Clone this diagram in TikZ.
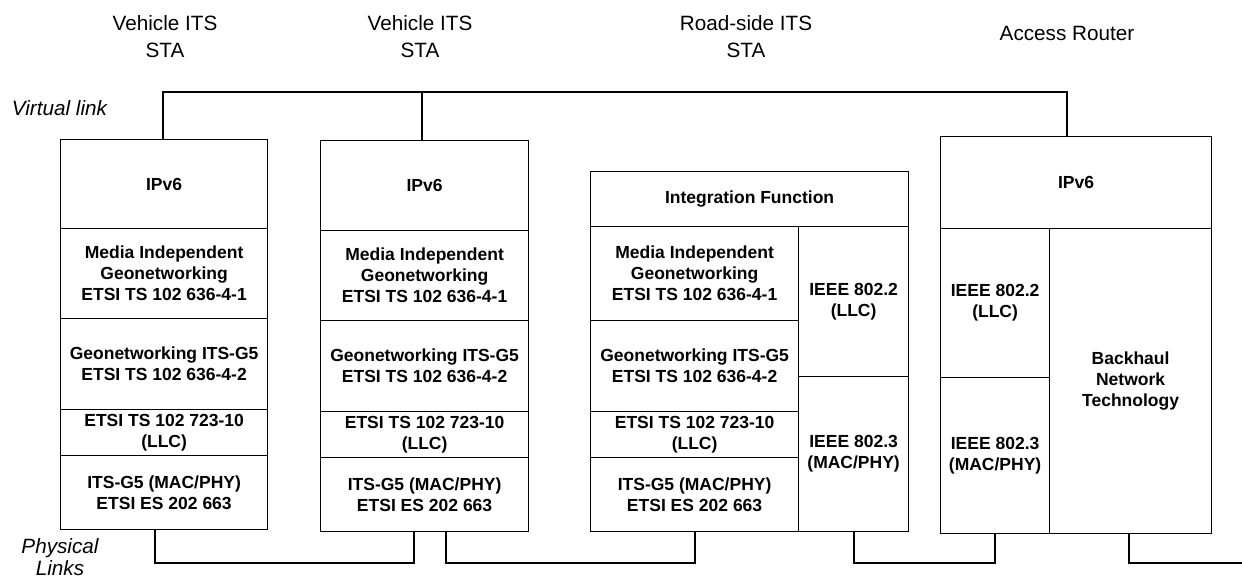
\documentclass[tikz,border=0pt]{standalone}
\usepackage{fontspec}
\setmainfont{Liberation Sans}
\usepackage{tikz}
\usetikzlibrary{calc}
\tikzset{
  layer/.style={draw=black, line width=1.2pt, anchor=north west, inner sep=0pt,
    align=center, font=\fontsize{17.5}{21}\selectfont\bfseries},
  link/.style={draw=black, line width=2pt, line cap=rect, line join=miter},
  title/.style={align=center, font=\fontsize{20.7}{27}\selectfont},
  side/.style={align=center, font=\fontsize{20.7}{22}\selectfont\itshape},
}

\begin{document}
\begin{tikzpicture}[x=1pt, y=-1pt]
  \useasboundingbox (0,0) rectangle (1242,582);

  % station names
  \node[title] (t1) at (165,36.5) {Vehicle ITS\\STA};
  \node[title] (t2) at (420,36.5) {Vehicle ITS\\STA};
  \node[title] (t3) at (746,36.5) {Road-side ITS\\STA};
  \node[title] (t4) at (1067,33) {Access Router};
  \node[side] (vlab) at (59.5,108) {Virtual link};
  \node[side] (plab) at (60,557) {Physical\\Links};

  % first vehicle
  \node[layer, minimum width=207, minimum height=89] (v1ip) at (60,139) {IPv6};
  \node[layer, minimum width=207, minimum height=90] (v1mig) at (60,228) {Media Independent\\Geonetworking\\ETSI TS 102 636-4-1};
  \node[layer, minimum width=207, minimum height=91] (v1geo) at (60,318) {Geonetworking ITS-G5\\ETSI TS 102 636-4-2};
  \node[layer, minimum width=207, minimum height=46] (v1llc) at (60,409) {ETSI TS 102 723-10\\(LLC)};
  \node[layer, minimum width=207, minimum height=74] (v1phy) at (60,455) {ITS-G5 (MAC/PHY)\\ETSI ES 202 663};

  % second vehicle
  \node[layer, minimum width=208, minimum height=90] (v2ip) at (320,140) {IPv6};
  \node[layer, minimum width=208, minimum height=90] (v2mig) at (320,230) {Media Independent\\Geonetworking\\ETSI TS 102 636-4-1};
  \node[layer, minimum width=208, minimum height=91] (v2geo) at (320,320) {Geonetworking ITS-G5\\ETSI TS 102 636-4-2};
  \node[layer, minimum width=208, minimum height=46] (v2llc) at (320,411) {ETSI TS 102 723-10\\(LLC)};
  \node[layer, minimum width=208, minimum height=74] (v2phy) at (320,457) {ITS-G5 (MAC/PHY)\\ETSI ES 202 663};

  % road-side station
  \node[layer, minimum width=318, minimum height=55] (rsif) at (590,171) {Integration Function};
  \node[layer, minimum width=208, minimum height=94] (rsmig) at (590,226) {Media Independent\\Geonetworking\\ETSI TS 102 636-4-1};
  \node[layer, minimum width=208, minimum height=91] (rsgeo) at (590,320) {Geonetworking ITS-G5\\ETSI TS 102 636-4-2};
  \node[layer, minimum width=208, minimum height=46] (rsllc) at (590,411) {ETSI TS 102 723-10\\(LLC)};
  \node[layer, minimum width=208, minimum height=74] (rsphy) at (590,457) {ITS-G5 (MAC/PHY)\\ETSI ES 202 663};
  \node[layer, minimum width=110, minimum height=150] (rs8022) at (798,226) {IEEE 802.2\\(LLC)};
  \node[layer, minimum width=110, minimum height=155] (rs8023) at (798,376) {IEEE 802.3\\(MAC/PHY)};

  % access router
  \node[layer, minimum width=271, minimum height=92] (arip) at (940,136) {IPv6};
  \node[layer, minimum width=109, minimum height=149] (ar8022) at (940,228) {IEEE 802.2\\(LLC)};
  \node[layer, minimum width=109, minimum height=156] (ar8023) at (940,377) {IEEE 802.3\\(MAC/PHY)};
  \node[layer, minimum width=162, minimum height=305] (arbh) at (1049,228) {Backhaul\\Network\\Technology};

  % virtual link
  \coordinate (vl) at (0,92);
  \coordinate (arup) at ([xshift=-9.5pt]arip.north);
  \draw[link] ([xshift=-1.5pt]v1ip.north) |- (arup |- vl) -- (arup);
  \draw[link] ([xshift=-3pt]v2ip.north) -- ([xshift=-3pt]v2ip.north |- vl);

  % physical links
  \coordinate (pl) at (0,563);
  \coordinate (edge) at (1242,563);
  \coordinate (v1dn) at ([xshift=-9.5pt]v1phy.south);
  \coordinate (v2dnA) at ([xshift=-11pt]v2phy.south);
  \coordinate (v2dnB) at ([xshift=21pt]v2phy.south);
  \coordinate (ardn) at ([xshift=-2pt]arbh.south);
  \draw[link] (v1dn) |- (v2dnA |- pl) -- (v2dnA);
  \draw[link] (v2dnB) |- (rsphy.south |- pl) -- (rsphy.south);
  \draw[link] (rs8023.south) |- (ar8023.south |- pl) -- (ar8023.south);
  \draw[link] (ardn) |- (edge);
\end{tikzpicture}
\end{document}
